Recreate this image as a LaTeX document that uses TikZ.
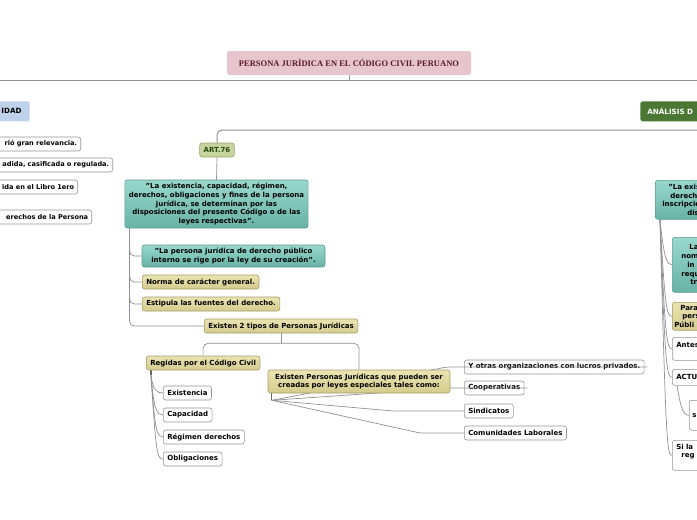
\documentclass[tikz,border=0pt]{standalone}
\usepackage{fontspec}
\setmainfont{DejaVu Sans}
\newfontfamily\titlefont{Liberation Serif}
\usetikzlibrary{calc}
\pgfdeclarelayer{bg}
\pgfdeclarelayer{fg}
\pgfsetlayers{bg,main,fg}
\definecolor{conncol}{RGB}{145,145,145}
\definecolor{wbord}{RGB}{150,150,150}
\definecolor{ktop}{RGB}{234,228,178}
\definecolor{kbot}{RGB}{212,203,140}
\definecolor{kbord}{RGB}{165,158,108}
\definecolor{ttop}{RGB}{152,216,205}
\definecolor{tbot}{RGB}{104,178,166}
\definecolor{tbord}{RGB}{95,155,146}
\definecolor{pinkf}{RGB}{230,197,204}
\definecolor{maroon}{RGB}{92,24,40}
\definecolor{bluef}{RGB}{190,210,235}
\definecolor{greenf}{RGB}{74,120,52}
\definecolor{artf}{RGB}{200,212,158}
\definecolor{artb}{RGB}{150,165,110}
\definecolor{artt}{RGB}{40,75,18}
\tikzset{
  base/.style={rounded corners=2.5pt, line width=0.6pt, inner xsep=4pt, inner ysep=0pt,
    minimum height=14pt, font=\fontsize{7}{8.7}\selectfont\bfseries, align=center},
  wbox/.style={base, fill=white, draw=wbord},
  kbox/.style={base, draw=kbord, top color=ktop, bottom color=kbot},
  tbox/.style={base, draw=tbord, top color=ttop, bottom color=tbot},
  cut/.style={align=left, inner xsep=0pt, text width=60pt},
  leftcut/.style={wbox, anchor=east, text width=150pt, align=right, inner xsep=3.5pt,
    font=\fontsize{6.6}{8.7}\selectfont\bfseries},
  conn/.style={draw=conncol, line width=0.7pt},
  stub/.style={draw=conncol!70!black, line width=1.3pt},
  mainline/.style={draw=conncol, line width=1pt},
}
\begin{document}
\begin{tikzpicture}[x=1pt,y=-1pt]
\useasboundingbox (0,0) rectangle (697,520);
\begin{pgfonlayer}{bg}
\fill[white] (0,0) rectangle (697,520);
\end{pgfonlayer}

% ---------- nodes ----------
\node[base, fill=pinkf, draw=none, minimum width=244pt, minimum height=24pt,
  font=\titlefont\fontsize{8.5}{10}\selectfont\bfseries, text=maroon] (title) at (349,63)
  {PERSONA JURÍDICA EN EL CÓDIGO CIVIL PERUANO};

\node[base, fill=bluef, draw=none, anchor=north east, text width=60pt, align=right,
  inner xsep=8pt, minimum height=20pt, font=\fontsize{7.2}{9}\selectfont\bfseries] (idad) at (30,101) {IDAD};
\node[base, fill=greenf, draw=none, anchor=north west, text width=60pt, align=left,
  inner xsep=7pt, minimum height=20pt, text=white, font=\fontsize{7.2}{9}\selectfont\bfseries] (anal) at (640,101) {ANÁLISIS D};

\node[leftcut] (l1) at (81,144) {rió gran relevancia.};
\node[leftcut] (l2) at (113,165) {adida, casificada o regulada.};
\node[leftcut] (l3) at (78,187) {ida en el Libro 1ero};
\node[leftcut] (l4) at (92,217) {erechos de la Persona};

\node[base, fill=artf, draw=artb, text=artt] (art) at (217,150) {ART.76};

\node[tbox, minimum width=183pt, minimum height=48pt] (teal1) at (216.5,204)
  {"La existencia, capacidad, régimen,\\derechos, obligaciones y fines de la persona\\jurídica, se determinan por las\\disposiciones del presente Código o de las\\leyes respectivas".};
\node[tbox, minimum width=183pt, minimum height=22pt] (teal2) at (233.5,256)
  {"La persona jurídica de derecho público\\interno se rige por la ley de su creación".};
\node[kbox, anchor=west] (norma) at (142,282) {Norma de carácter general.};
\node[kbox, anchor=west] (estip) at (142,304) {Estipula las fuentes del derecho.};
\node[kbox, anchor=west] (exist2) at (204,326) {Existen 2 tipos de Personas Jurídicas};

\node[kbox, anchor=west] (regidas) at (146,363) {Regidas por el Código Civil};
\node[wbox, anchor=west] (c1) at (163,393) {Existencia};
\node[wbox, anchor=west] (c2) at (163,415) {Capacidad};
\node[wbox, anchor=west] (c3) at (163,437) {Régimen derechos};
\node[wbox, anchor=west] (c4) at (163,459) {Obligaciones};

\begin{pgfonlayer}{fg}
\node[kbox, minimum width=182pt, minimum height=23pt] (esp) at (359,381.5)
  {Existen Personas Jurídicas que pueden ser\\creadas por leyes especiales tales como:};
\end{pgfonlayer}
\node[wbox, anchor=west] (yotras) at (464,367) {Y otras organizaciones con lucros privados.};
\node[wbox, anchor=west] (coop) at (464,388) {Cooperativas};
\node[wbox, anchor=west] (sind) at (464,411) {Sindicatos};
\node[wbox, anchor=west] (comun) at (464,433) {Comunidades Laborales};

% right side (cut by the page edge)
\node[tbox, cut, anchor=north west, minimum height=39pt] (r1) at (655,180)
  {\hspace*{13pt}"La exis\\\hspace*{15pt}derech\\\hspace*{7pt}inscripcio\\\hspace*{32pt}dis};
\node[tbox, cut, anchor=north west, minimum height=55pt] (r2) at (672,237)
  {\hspace*{17pt}La\\\hspace*{9pt}nom\\\hspace*{15pt}in\\\hspace*{9pt}requ\\\hspace*{18pt}tr};
\node[kbox, cut, anchor=north west, minimum height=28pt] (r3) at (672,302)
  {\hspace*{8pt}Para\\\hspace*{10pt}pers\\\hspace*{2pt}Públi};
\node[wbox, cut, anchor=north west, minimum height=23pt] (r4) at (672,337)
  {\hspace*{4pt}Antes\\\mbox{}};
\node[wbox, cut, anchor=north west, minimum height=16pt] (r5) at (672,369)
  {\hspace*{4pt}ACTU};
\node[wbox, cut, anchor=north west, minimum height=30pt] (r6) at (689,400)
  {\hspace*{3pt}s};
\node[wbox, cut, anchor=north west, minimum height=30pt] (r7) at (672,440)
  {\hspace*{4pt}Si la\\\hspace*{9pt}reg\\\mbox{}};

% ---------- connectors ----------
\begin{pgfonlayer}{bg}
\coordinate (hl) at (-10,80);
\coordinate (hr) at (710,80);
\coordinate (hr2) at (710,130);
\draw[mainline] (title.south) -- (title.south |- hl);
\draw[mainline] (hl) -- (hr);
\draw[mainline, rounded corners=5pt] (art.north) |- (hr2);
\draw[conn] (art.south) -- (teal1.north);

\coordinate (t1b) at ([xshift=5pt]teal1.south west);
\draw[conn, rounded corners=5pt] (t1b) |- (exist2.west);
\draw[conn, rounded corners=5pt] (t1b) |- (teal2.west);
\draw[conn, rounded corners=5pt] (t1b) |- (norma.west);
\draw[conn, rounded corners=5pt] (t1b) |- (estip.west);

\coordinate (e2m) at ([yshift=-10pt]exist2.south);
\draw[conn] (exist2.south) -- (e2m);
\draw[conn, rounded corners=5pt] (regidas.north) |- (e2m) -| (esp.north);

\coordinate (rb) at ([xshift=5pt]regidas.south west);
\coordinate (rc) at ([yshift=-5pt]rb);
\draw[stub] (rb) -- (rc);
\draw[conn] (rc) .. controls +(2,15) and +(-6,0) .. (c1.west);
\draw[conn] (rc) .. controls +(3,36) and +(-6,0) .. (c2.west);
\draw[conn] (rc) .. controls +(4,57) and +(-6,0) .. (c3.west);
\draw[conn] (rc) .. controls +(5,78) and +(-6,0) .. (c4.west);

\coordinate (eb) at ([xshift=4pt]esp.south west);
\coordinate (ec) at ([yshift=-7pt]eb);
\draw[conn, rounded corners=3pt] (ec) -- ([xshift=-71pt]sind.west) -- (sind.west);
\draw[conn, rounded corners=3pt] (ec) -- ([xshift=-44pt]comun.west) -- (comun.west);

\coordinate (r1b) at ([xshift=5pt]r1.south west);
\draw[conn] (r1b) .. controls +(4,40) and +(-5,0) .. (r2.west);
\draw[conn] (r1b) .. controls +(5,90) and +(-5,0) .. (r3.west);
\draw[conn] (r1b) .. controls +(5,120) and +(-5,0) .. (r4.west);
\draw[conn] (r1b) .. controls +(5,150) and +(-5,0) .. (r5.west);
\draw[conn] (r1b) .. controls +(6,225) and +(-5,0) .. (r7.west);
\coordinate (r5b) at ([xshift=5pt]r5.south west);
\draw[conn] (r5b) .. controls +(4,25) and +(-5,0) .. (r6.west);
\end{pgfonlayer}

% connectors that the reference draws across their boxes
\draw[conn, rounded corners=3pt] (ec) -- ([xshift=-17pt]yotras.west) -- ([xshift=3pt]yotras.east);
\draw[conn, rounded corners=3pt] (ec) -- ([xshift=-14pt]coop.west) -- ([xshift=3pt]coop.east);
\draw[stub] (eb) -- (ec);
\end{tikzpicture}
\end{document}
